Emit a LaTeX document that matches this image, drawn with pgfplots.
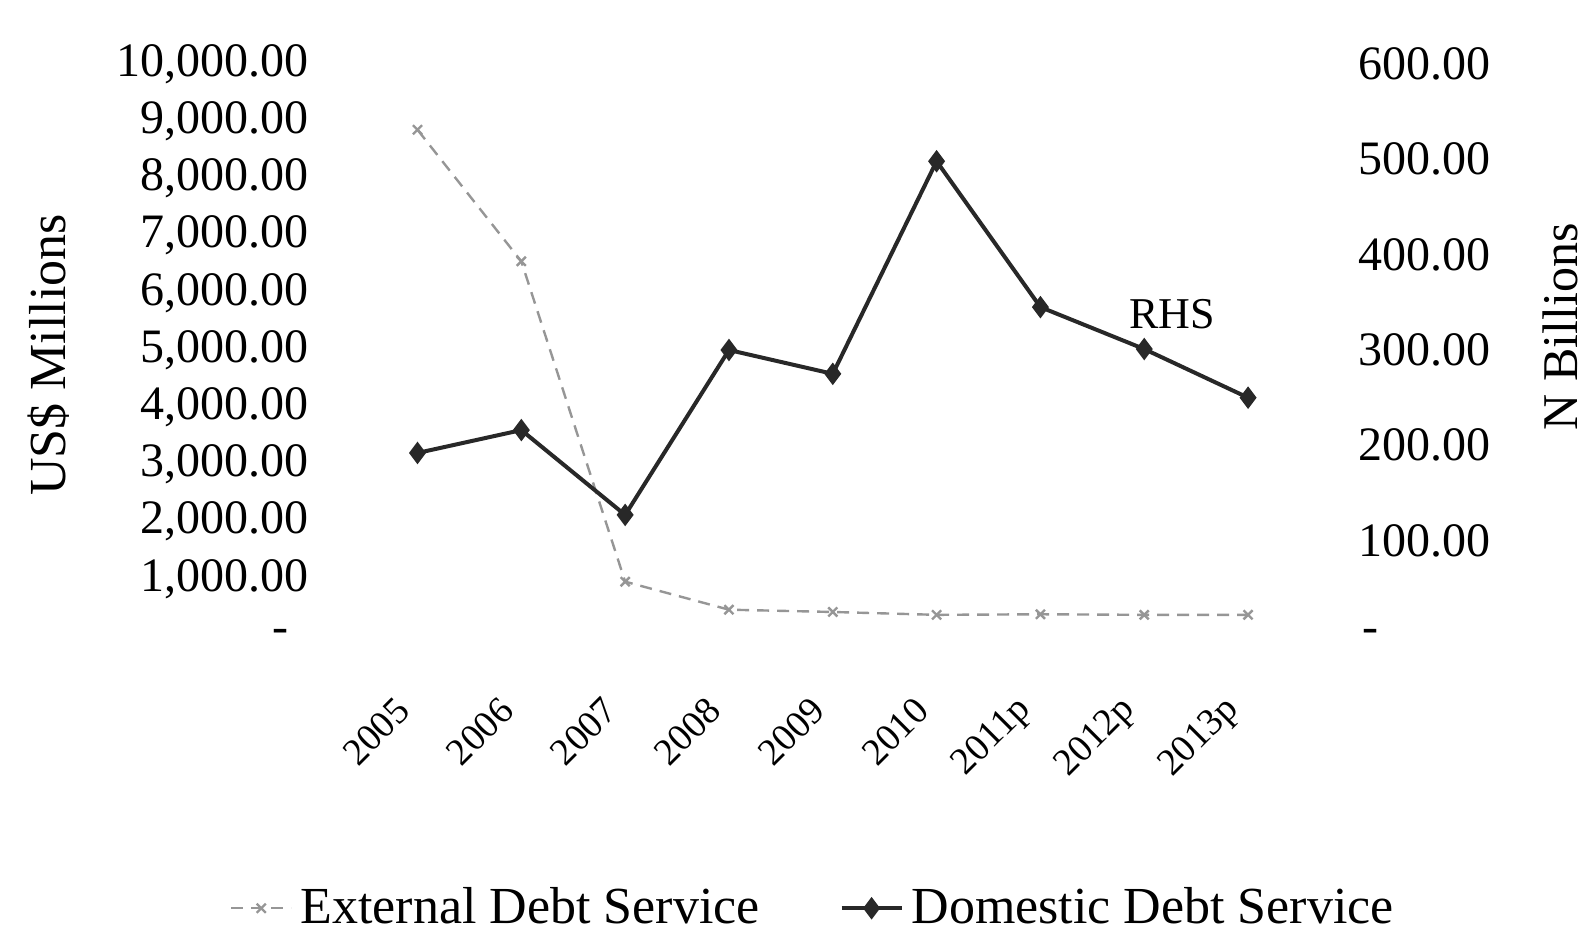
\documentclass[border=0pt]{standalone}
\usepackage{fontspec}
\setmainfont{Liberation Serif}
\usepackage{pgfplots}
\pgfplotsset{compat=1.18}
\definecolor{extc}{RGB}{150,150,150}
\definecolor{domc}{RGB}{40,40,40}
\begin{document}
\begin{tikzpicture}
\begin{axis}[
  at={(91.4pt,74.75pt)}, anchor=south west,
  scale only axis, width=233.6pt, height=143pt,
  xmin=-0.5, xmax=8.5, ymin=0, ymax=10000,
  scaled y ticks=false,
  xtick={0,...,8},
  xticklabels={2005,2006,2007,2008,2009,2010,2011p,2012p,2013p},
  xticklabel style={font=\fontsize{9.5}{11}\selectfont, xshift=-3.5pt, yshift=-17pt, rotate=45, anchor=east, inner sep=0pt},
  ytick={0,1000,...,10000},
  yticklabels={{-\kern5pt},{1,000.00},{2,000.00},{3,000.00},{4,000.00},{5,000.00},{6,000.00},{7,000.00},{8,000.00},{9,000.00},{10,000.00}},
  yticklabel style={font=\fontsize{12}{14}\selectfont, anchor=east, inner sep=0pt, xshift=-14pt},
  axis line style={draw=none}, tick style={draw=none},
  clip=false,
]
\addplot[extc, densely dashed, line width=0.6pt, mark=x, mark size=1.6pt, mark options={solid}]
  coordinates {(0,8850)(1,6550)(2,950)(3,460)(4,420)(5,370)(6,380)(7,370)(8,370)};
\end{axis}
\begin{axis}[
  at={(91.4pt,74.75pt)}, anchor=south west,
  scale only axis, width=233.6pt, height=143pt,
  xmin=-0.5, xmax=8.5, ymin=0, ymax=600,
  scaled y ticks=false,
  xtick=\empty,
  ytick={0,100,...,600},
  yticklabels={{\kern1pt-},{100.00},{200.00},{300.00},{400.00},{500.00},{600.00}},
  yticklabel pos=right,
  yticklabel style={font=\fontsize{12}{14}\selectfont, anchor=west, inner sep=0pt, xshift=14.5pt},
  axis line style={draw=none}, tick style={draw=none},
  clip=false,
  legend columns=2,
  legend style={at={(0.482,-0.476)}, anchor=center, draw=none, fill=none,
    font=\fontsize{13}{15}\selectfont,
    /tikz/every even column/.append style={column sep=18pt}},
  legend image code/.code={\draw[mark repeat=2,mark phase=2,#1] plot coordinates {(0pt,0pt) (7.5pt,0pt) (15pt,0pt)};},
]
\addlegendimage{extc, densely dashed, line width=0.6pt, mark=x, mark size=1.6pt, mark options={solid}}
\addlegendentry{External Debt Service}
\addplot[domc, line width=1pt, mark=diamond*, mark size=2pt]
  coordinates {(0,192)(1,216)(2,127)(3,300)(4,275)(5,498)(6,345)(7,301)(8,250)};
\addlegendentry{Domestic Debt Service}
\node[font=\fontsize{11}{13}\selectfont, inner sep=0pt] at (axis cs:7.27,338) {RHS};
\end{axis}
\node[rotate=90, font=\fontsize{13}{15}\selectfont] at (12.2pt,145pt) {US\$ Millions};
\node[rotate=90, font=\fontsize{12.5}{15}\selectfont] at (390.2pt,152pt) {N Billions};
\pgfresetboundingbox
\path[use as bounding box] (0,0) rectangle (397.25pt,233.75pt);
\end{tikzpicture}
\end{document}
